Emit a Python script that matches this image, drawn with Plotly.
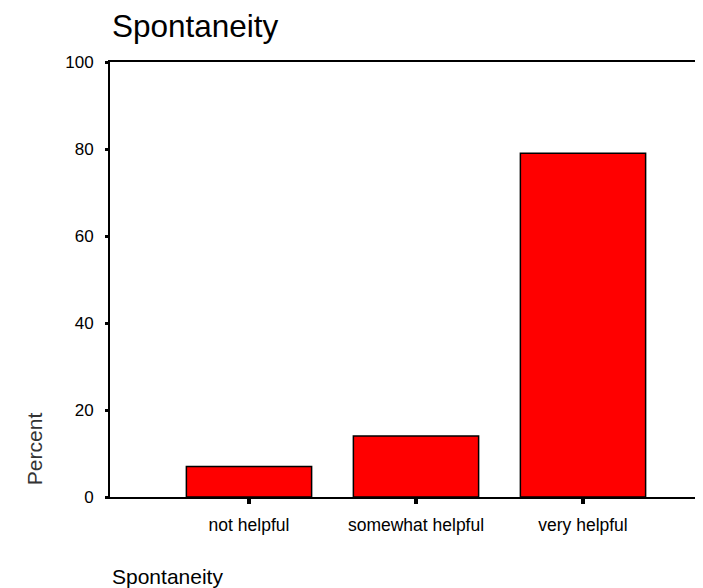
import plotly.graph_objects as go

categories = ["not helpful", "somewhat helpful", "very helpful"]
percent = [7.0, 14.0, 79.0]
y_ticks = [0, 20, 40, 60, 80, 100]

FONT = "Liberation Sans, Arial, sans-serif"

fig = go.Figure()
fig.add_trace(go.Bar(
    x=[0, 1, 2], y=percent,
    marker=dict(color="#ff0000", line=dict(color="black", width=1.5)),
    width=0.75,
    hoverinfo="skip",
))

fig.update_layout(
    width=703, height=588,
    margin=dict(l=102, r=1, t=54, b=99, autoexpand=False),
    paper_bgcolor="white", plot_bgcolor="white",
    showlegend=False,
    font=dict(family=FONT, color="black"),
    xaxis=dict(
        range=[-0.8323, 2.7605],
        tickmode="array", tickvals=[0, 1, 2], ticktext=categories,
        showgrid=False, zeroline=False, automargin=False,
        showline=True, linecolor="black", linewidth=2, mirror=True,
        ticks="outside", ticklen=5, tickwidth=4, tickcolor="black",
        tickfont=dict(size=17.5, family=FONT, color="black"),
        ticklabelstandoff=6,
    ),
    yaxis=dict(
        range=[0, 100],
        tickmode="array", tickvals=y_ticks, ticktext=[str(v) for v in y_ticks],
        showgrid=False, zeroline=False, automargin=False,
        showline=True, linecolor="black", linewidth=2,
        ticks="outside", ticklen=3, tickwidth=3, tickcolor="black",
        tickfont=dict(size=17, family=FONT, color="black"),
        ticklabelstandoff=8,
    ),
    annotations=[
        dict(text="Spontaneity", xref="paper", yref="paper",
             x=0.0, y=1.0, xanchor="left", yanchor="bottom", yshift=16,
             showarrow=False, font=dict(size=31.5, family=FONT, color="black")),
        dict(text="Percent", xref="paper", yref="paper",
             x=0, y=0.11, xanchor="center", yanchor="middle", xshift=-76,
             textangle=-90, showarrow=False,
             font=dict(size=21, family=FONT, color="#333333")),
        dict(text="Spontaneity", xref="paper", yref="paper",
             x=0.0, y=0, xanchor="left", yanchor="top", yshift=-66,
             showarrow=False, font=dict(size=21, family=FONT, color="black")),
    ],
)

fig.write_html("out.html")
